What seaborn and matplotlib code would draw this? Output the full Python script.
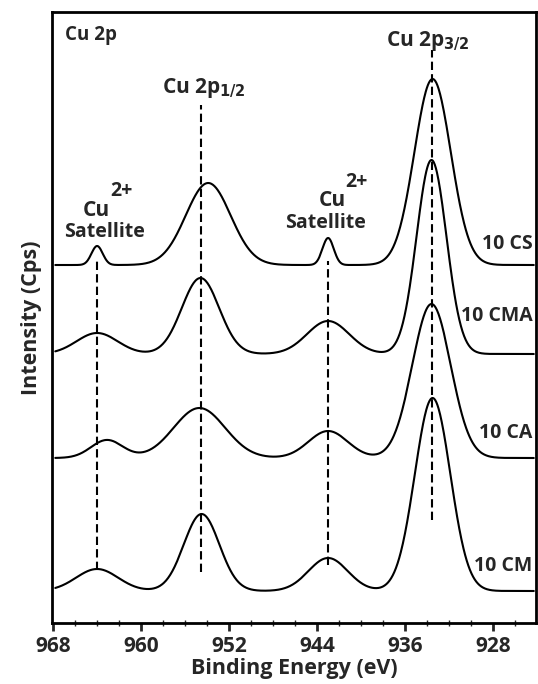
import numpy as np
import pandas as pd
import matplotlib.pyplot as plt
import seaborn as sns
from matplotlib.ticker import MultipleLocator

# peak parameters (binding energy, eV)
samples = ["10 CM", "10 CA", "10 CMA", "10 CS"]
baselines = [32, 165, 269, 358]
centers = {
    "10 CS": [964.0, 953.9, 943.0, 933.5],
    "10 CMA": [964.0, 954.6, 943.0, 933.6],
    "10 CA": [963.1, 954.7, 943.0, 933.6],
    "10 CM": [964.0, 954.5, 943.0, 933.5],
}
heights = {
    "10 CS": [19, 82, 27, 186],
    "10 CMA": [21, 76, 33, 194],
    "10 CA": [18, 50, 27, 154],
    "10 CM": [22, 77, 33, 193],
}
fwhms = {
    "10 CS": [1.2, 4.8, 1.2, 3.9],
    "10 CMA": [4.4, 4.0, 4.5, 3.2],
    "10 CA": [3.4, 5.5, 4.2, 4.1],
    "10 CM": [4.5, 3.8, 4.2, 3.8],
}
label_y = [57, 190, 307, 379]

# dashed guide lines
guide_x = [964.0, 954.6, 943.0, 933.6]
guide_top = [362, 518, 362, 573]
guide_bottom = [53, 51, 58, 103]

sns.set_style("white")
plt.rcParams["font.family"] = ["Open Sans", "DejaVu Sans"]
plt.rcParams["font.weight"] = "bold"

energy = np.linspace(967.8, 924.3, 900)
rows = []
for s, base in zip(samples, baselines):
    y = np.full_like(energy, base, dtype=float)
    for c, h, w in zip(centers[s], heights[s], fwhms[s]):
        sig = w / 2.3548
        y += h * np.exp(-0.5 * ((energy - c) / sig) ** 2)
    rows.append(pd.DataFrame({"energy": energy, "intensity": y, "sample": s}))
df = pd.concat(rows, ignore_index=True)

fig = plt.figure(figsize=(5.38, 6.84), dpi=100)
ax = fig.add_axes([52 / 538, 61 / 684, 484 / 538, 611 / 684])

sns.lineplot(data=df, x="energy", y="intensity", units="sample", estimator=None,
             color="black", linewidth=1.5, ax=ax, legend=False)

for gx, gt, gb in zip(guide_x, guide_top, guide_bottom):
    ax.plot([gx, gx], [gb, gt], color="black", linestyle=(0, (4, 2)), linewidth=1.5)

for s, ly in zip(samples, label_y):
    ax.text(924.4, ly, s, ha="right", va="center", fontsize=14, fontweight="bold")

ax.text(966.9, 588, "Cu 2p", ha="left", va="center", fontsize=13.5, fontweight="bold")
ax.text(954.3, 535, r"Cu 2p$_{\mathbf{1/2}}$", ha="center", va="center",
        fontsize=15, fontweight="bold")
ax.text(933.9, 582, r"Cu 2p$_{\mathbf{3/2}}$", ha="center", va="center",
        fontsize=15, fontweight="bold")

# Cu2+ satellite labels
ax.text(962.8, 413, "Cu", ha="right", va="center", fontsize=15, fontweight="bold")
ax.text(962.8, 432, "2+", ha="left", va="center", fontsize=14, fontweight="bold")
ax.text(963.3, 391, "Satellite", ha="center", va="center", fontsize=14, fontweight="bold")
ax.text(941.4, 423, "Cu", ha="right", va="center", fontsize=15, fontweight="bold")
ax.text(941.4, 441, "2+", ha="left", va="center", fontsize=14, fontweight="bold")
ax.text(943.2, 400, "Satellite", ha="center", va="center", fontsize=14, fontweight="bold")

ax.set_xlim(968.1, 924.1)
ax.set_ylim(0, 611)
ax.xaxis.set_minor_locator(MultipleLocator(2))
ax.set_xticks([968, 960, 952, 944, 936, 928])
ax.set_yticks([])
ax.tick_params(axis="x", which="major", direction="out", length=6, width=2,
               labelsize=15, pad=3, bottom=True)
ax.tick_params(axis="x", which="minor", direction="inout", length=4, width=1, bottom=True)
for lab in ax.get_xticklabels():
    lab.set_fontweight("bold")
for sp in ax.spines.values():
    sp.set_linewidth(2)
    sp.set_color("black")

ax.set_xlabel("Binding Energy (eV)", fontsize=15.5, fontweight="bold", labelpad=1)
ax.set_ylabel("Intensity (Cps)", fontsize=15.5, fontweight="bold", labelpad=7)

fig.savefig("out.png", dpi=100)
